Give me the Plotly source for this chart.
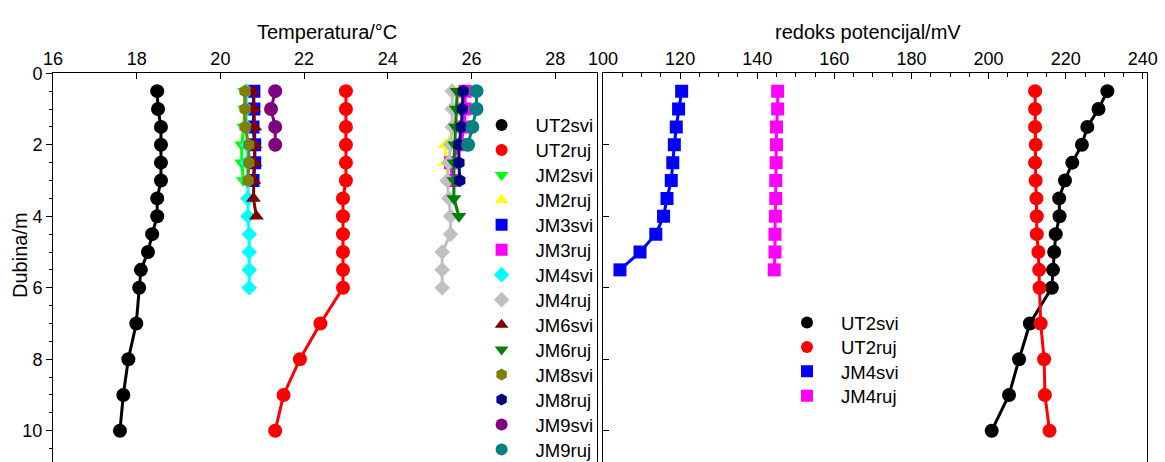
import plotly.graph_objects as go

# Depth levels (m)
depth_full = [0.5, 1, 1.5, 2, 2.5, 3, 3.5, 4, 4.5, 5, 5.5, 6, 7, 8, 9, 10]
depth_6 = [0.5, 1, 1.5, 2, 2.5, 3, 3.5, 4, 4.5, 5, 5.5, 6]
depth_55 = [0.5, 1, 1.5, 2, 2.5, 3, 3.5, 4, 4.5, 5, 5.5]
depth_4 = [0.5, 1, 1.5, 2, 2.5, 3, 3.5, 4]
depth_3 = [0.5, 1, 1.5, 2, 2.5, 3]
depth_2 = [0.5, 1, 1.5, 2]

# Temperature profiles (°C)
t_ut2svi = [18.49, 18.51, 18.58, 18.58, 18.58, 18.58, 18.49, 18.49, 18.37, 18.27, 18.10, 18.06, 17.99, 17.80, 17.68, 17.60]
t_ut2ruj = [23.0, 23.0, 23.0, 23.0, 23.0, 23.0, 22.93, 22.93, 22.93, 22.93, 22.93, 22.93, 22.39, 21.90, 21.51, 21.31]
t_jm2svi = [20.58, 20.58, 20.56, 20.51, 20.51, 20.55]
t_jm2ruj = [25.68, 25.66, 25.62, 25.38, 25.38, 25.45]
t_jm3svi = [20.80, 20.80, 20.78, 20.82, 20.82, 20.78]
t_jm3ruj = [25.85, 25.85, 25.82, 25.75, 25.50, 25.55]
t_jm4svi = [20.62, 20.62, 20.62, 20.64, 20.64, 20.66, 20.66, 20.66, 20.69, 20.69, 20.69, 20.69]
t_jm4ruj = [25.54, 25.54, 25.54, 25.50, 25.46, 25.42, 25.46, 25.50, 25.50, 25.30, 25.30, 25.30]
t_jm6svi = [20.78, 20.80, 20.82, 20.82, 20.82, 20.80, 20.79, 20.86]
t_jm6ruj = [25.66, 25.64, 25.62, 25.60, 25.58, 25.58, 25.58, 25.70]
t_jm8svi = [20.59, 20.59, 20.59, 20.68, 20.68, 20.66]
t_jm8ruj = [25.80, 25.78, 25.76, 25.70, 25.70, 25.72]
t_jm9svi = [21.31, 21.21, 21.31, 21.31]
t_jm9ruj = [26.12, 26.12, 26.02, 25.92]

# Redox potential profiles (mV)
r_ut2svi = [230.8, 228.5, 225.6, 224.2, 221.7, 219.8, 218.3, 218.4, 217.4, 217.0, 216.7, 216.4, 210.7, 207.9, 205.3, 200.8]
r_ut2ruj = [212.05, 212.05, 212.05, 212.2, 212.05, 212.2, 212.4, 212.5, 212.5, 212.9, 213.1, 213.2, 213.5, 214.4, 214.6, 215.8]
r_jm4svi = [120.4, 119.6, 119.0, 118.5, 118.1, 117.7, 116.6, 115.7, 113.7, 109.6, 104.4]
r_jm4ruj = [145.3, 145.3, 145.0, 145.0, 144.9, 144.8, 144.8, 144.7, 144.6, 144.6, 144.4]

temp_ticks = [16, 18, 20, 22, 24, 26, 28]
redox_ticks = [100, 120, 140, 160, 180, 200, 220, 240]
depth_ticks = [0, 2, 4, 6, 8, 10]

FONT = "Liberation Sans, Arial, sans-serif"

# (name, values, depths, colour, symbol)
temp_series = [
    ("UT2svi", t_ut2svi, depth_full, "#000000", "circle"),
    ("UT2ruj", t_ut2ruj, depth_full, "#FF0000", "circle"),
    ("JM2svi", t_jm2svi, depth_3, "#00FF00", "triangle-down"),
    ("JM2ruj", t_jm2ruj, depth_3, "#FFFF00", "triangle-up"),
    ("JM3svi", t_jm3svi, depth_3, "#0000FF", "square"),
    ("JM3ruj", t_jm3ruj, depth_3, "#FF00FF", "square"),
    ("JM4svi", t_jm4svi, depth_6, "#00FFFF", "diamond"),
    ("JM4ruj", t_jm4ruj, depth_6, "#C0C0C0", "diamond"),
    ("JM6svi", t_jm6svi, depth_4, "#800000", "triangle-up"),
    ("JM6ruj", t_jm6ruj, depth_4, "#008000", "triangle-down"),
    ("JM8svi", t_jm8svi, depth_3, "#808000", "hexagon"),
    ("JM8ruj", t_jm8ruj, depth_3, "#000080", "hexagon"),
    ("JM9svi", t_jm9svi, depth_2, "#800080", "circle"),
    ("JM9ruj", t_jm9ruj, depth_2, "#008080", "circle"),
]

redox_series = [
    ("UT2svi", r_ut2svi, depth_full, "#000000", "circle"),
    ("UT2ruj", r_ut2ruj, depth_full, "#FF0000", "circle"),
    ("JM4svi", r_jm4svi, depth_55, "#0000FF", "square"),
    ("JM4ruj", r_jm4ruj, depth_55, "#FF00FF", "square"),
]

SIZES = {"circle": 14, "square": 13, "diamond": 12, "triangle-up": 13,
         "triangle-down": 13, "hexagon": 13}

W, H = 1165, 462
legend_font = dict(family=FONT, size=18.5, color="#000000")

fig = go.Figure()
legends = {}


def legend_entry(key, marker_x, row_y):
    # one legend box per entry so each row sits at its own height
    legends[key] = dict(
        x=(marker_x - 36) / W, y=1 - (row_y - 18) / H, xanchor="left", yanchor="top",
        bgcolor="rgba(0,0,0,0)", borderwidth=0, font=legend_font,
        itemwidth=58, itemsizing="constant")


def add_profile(name, xs, ys, color, symbol, xaxis, yaxis, legend):
    fig.add_trace(go.Scatter(
        x=xs, y=ys, mode="lines", line=dict(color=color, width=3),
        xaxis=xaxis, yaxis=yaxis, showlegend=False, hoverinfo="skip"))
    fig.add_trace(go.Scatter(
        x=xs, y=ys, mode="markers", name=name,
        marker=dict(color=color, symbol=symbol, size=SIZES[symbol], line=dict(width=0)),
        xaxis=xaxis, yaxis=yaxis, legend=legend))


n = 0
for i, (name, xs, ys, color, symbol) in enumerate(temp_series):
    n += 1
    key = "legend" if n == 1 else f"legend{n}"
    legend_entry(key, 503.6, 124.5 + 24.95 * i)
    add_profile(name, xs, ys, color, symbol, "x", "y", key)
for i, (name, xs, ys, color, symbol) in enumerate(redox_series):
    n += 1
    key = f"legend{n}"
    legend_entry(key, 809, 322 + 24.4 * i)
    add_profile(name, xs, ys, color, symbol, "x2", "y2", key)

left_dom = [53 / W, 597 / W]
right_dom = [603 / W, 1146.7 / W]
y_top = 1 - 73.3 / H
depth_max = (H - 73.3) / 35.74

axis_font = dict(family=FONT, size=18, color="#000000")

fig.update_layout(
    width=W, height=H,
    margin=dict(l=0, r=0, t=0, b=0, autoexpand=False),
    paper_bgcolor="#FFFFFF", plot_bgcolor="#FFFFFF",
    font=dict(family=FONT, size=18, color="#000000"),
    xaxis=dict(
        domain=left_dom, anchor="y", side="top", range=[16, 29], automargin=False,
        tickvals=temp_ticks, ticks="inside", ticklen=6, tickwidth=1,
        tickcolor="#000000", showline=True, linecolor="#000000", linewidth=1,
        showgrid=False, zeroline=False, tickfont=axis_font),
    yaxis=dict(
        domain=[0, y_top], anchor="x", range=[depth_max, 0], automargin=False,
        tickvals=depth_ticks, ticks="outside", ticklen=6, tickwidth=1,
        tickcolor="#000000", showline=True, mirror=True, linecolor="#000000",
        linewidth=1, showgrid=False, zeroline=False, tickfont=axis_font,
        minor=dict(dtick=0.5, tick0=0, ticks="outside", ticklen=3,
                   tickcolor="#000000", showgrid=False)),
    xaxis2=dict(
        domain=right_dom, anchor="y2", side="top", range=[100, 241], automargin=False,
        tickvals=redox_ticks, ticks="inside", ticklen=6, tickwidth=1,
        tickcolor="#000000", showline=True, linecolor="#000000", linewidth=1,
        showgrid=False, zeroline=False, tickfont=axis_font,
        minor=dict(dtick=5, tick0=0, ticks="inside", ticklen=4,
                   tickcolor="#000000", showgrid=False)),
    yaxis2=dict(
        domain=[0, y_top], anchor="x2", range=[depth_max, 0], automargin=False,
        tickvals=depth_ticks, ticks="inside", ticklen=6, tickwidth=1,
        tickcolor="#000000", showticklabels=False, showline=True, mirror=True,
        linecolor="#000000", linewidth=1, showgrid=False, zeroline=False),
    annotations=[
        dict(text="Temperatura/°C", x=327 / W, y=1 - 32 / H, xref="paper", yref="paper",
             xanchor="center", yanchor="middle", showarrow=False,
             font=dict(family=FONT, size=20, color="#000000")),
        dict(text="redoks potencijal/mV", x=868 / W, y=1 - 32 / H, xref="paper", yref="paper",
             xanchor="center", yanchor="middle", showarrow=False,
             font=dict(family=FONT, size=20, color="#000000")),
        dict(text="Dubina/m", x=20 / W, y=1 - 255 / H, xref="paper", yref="paper",
             xanchor="center", yanchor="middle", showarrow=False, textangle=-90,
             font=dict(family=FONT, size=20, color="#000000")),
    ],
)
fig.update_layout(**legends)

fig.write_html("out.html")
